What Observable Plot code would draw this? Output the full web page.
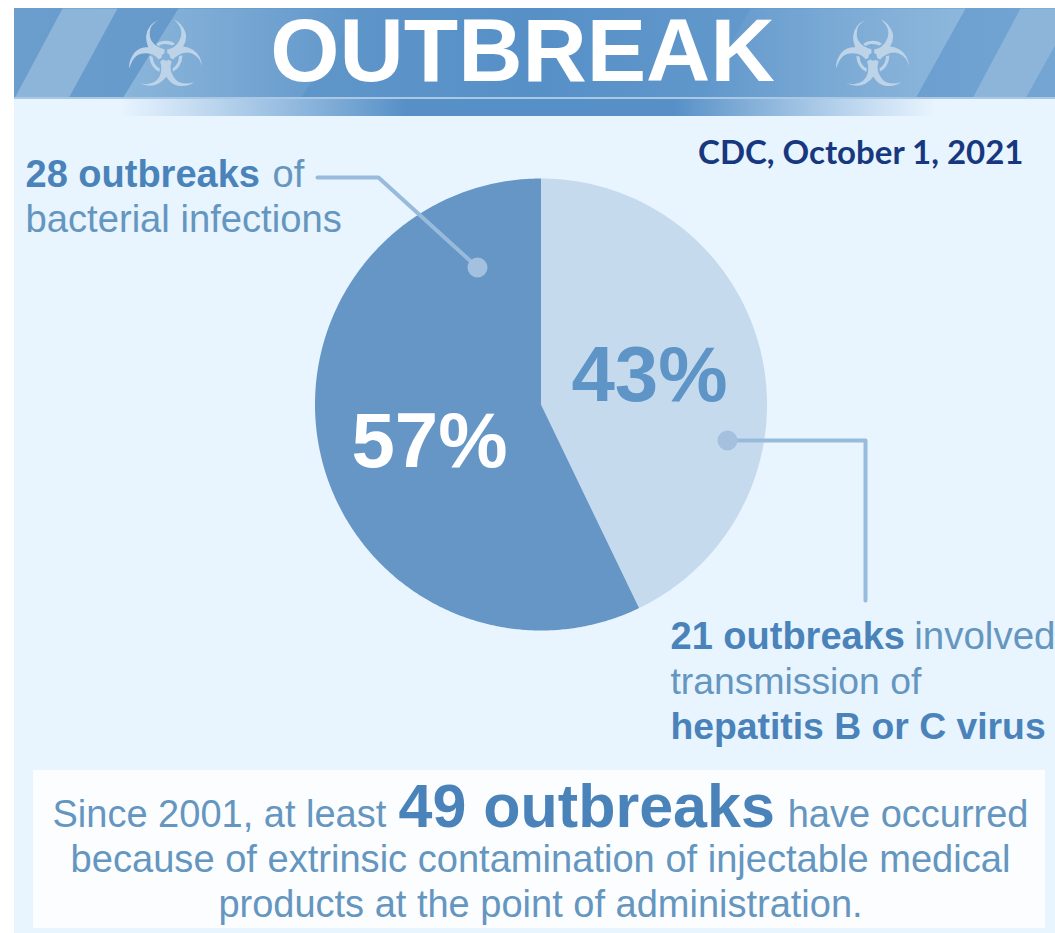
<!DOCTYPE html>
<html>
<head>
<meta charset="utf-8">
<script src="https://cdn.jsdelivr.net/npm/d3@7"></script>
<script src="https://cdn.jsdelivr.net/npm/@observablehq/plot@0.6"></script>
<style>
  html, body { margin: 0; padding: 0; background: #fff; }
  svg { display: block; }
</style>
</head>
<body>
<div id="chart"></div>
<script>
// Outbreak counts by type, clockwise from twelve o'clock
const outbreakTypes = ["hepatitis", "bacterial"];
const outbreakCounts = [21, 28];
const sliceColors = ["#c6daee", "#6596c6"];
const percentColors = ["#5e94c6", "#ffffff"];

const W = 1055, H = 933;
const pieCenter = {x: 540.5, y: 404};
const pieRadius = 226;

const SANS = "'Liberation Sans', Arial, sans-serif";
const BOLD_BLUE = "#4a83ba";
const SOFT_BLUE = "#6596bf";

// Wedge outlines come from d3.pie so the angles follow the counts
const arcs = d3.pie().sort(null).value(d => d)(outbreakCounts);
const wedgePoints = arc => {
  const pts = [{x: pieCenter.x, y: pieCenter.y}];
  const steps = Math.ceil((arc.endAngle - arc.startAngle) * 180 / Math.PI * 2);
  for (let i = 0; i <= steps; i++) {
    const a = arc.startAngle + (arc.endAngle - arc.startAngle) * i / steps;
    pts.push({x: pieCenter.x + pieRadius * Math.sin(a), y: pieCenter.y - pieRadius * Math.cos(a)});
  }
  return pts;
};

const polygon = (pts, fill, extra = {}) =>
  Plot.line(pts, {x: "x", y: "y", fill, stroke: "none", curve: "linear-closed", ...extra});

const band = (x1, x2, y1, y2, fill) =>
  Plot.rect([{x1, x2, y1, y2}], {x1: "x1", x2: "x2", y1: "y1", y2: "y2", fill});

const label = (text, x, y, size, fill, weight = "normal", anchor = "start", family = SANS) =>
  Plot.text([{text, x, y}], {
    x: "x", y: "y", text: "text", fontSize: size, fill, fontWeight: weight,
    textAnchor: anchor, lineAnchor: "bottom", fontFamily: family
  });

// Slanted header stripe from its bottom and top edges
const stripe = (b1, b2, t1, t2, fill) => polygon(
  [{x: b1, y: 98}, {x: b2, y: 98}, {x: t2, y: 8}, {x: t1, y: 8}], fill);

const leader = pts => Plot.line(pts, {x: "x", y: "y", stroke: "#98bbdc", strokeWidth: 4, curve: "linear"});
const dot = (x, y) => Plot.dot([{x, y}], {x: "x", y: "y", r: 10, fill: "#a3c1df", stroke: "none"});

const gradients = () => {
  const defs = d3.create("svg:defs");
  const stops = (id, list) => {
    const g = defs.append("linearGradient").attr("id", id);
    list.forEach(([o, c, a]) => g.append("stop").attr("offset", o).attr("stop-color", c).attr("stop-opacity", a));
  };
  stops("headerFill", [[0, "#6b9ecd", 1], [0.5, "#5690c7", 1], [1, "#74a5d3", 1]]);
  stops("underFill", [[0, "#5a94cb", 0], [0.35, "#4f8bc4", 0.95], [0.68, "#4f8bc4", 0.95], [1, "#5a94cb", 0]]);
  stops("stripeFade", [[0, "#8fb8dc", 0.9], [1, "#8fb8dc", 0]]);
  stops("stripeFadeBack", [[0, "#8fb8dc", 0], [1, "#8fb8dc", 0.95]]);
  return defs.node();
};

const [hepArc, bacArc] = arcs;
const percent = i => `${Math.round(outbreakCounts[i] / d3.sum(outbreakCounts) * 100)}%`;

const chart = Plot.plot({
  width: W,
  height: H,
  margin: 0,
  style: {background: "#fff", overflow: "hidden"},
  x: {domain: [0, W], range: [0, W], axis: null},
  y: {domain: [0, H], range: [0, H], axis: null},
  marks: [
    gradients,
    // Panel and header
    band(14, W, 8, H, "#e8f4fe"),
    band(14, W, 8, 98, "url(#headerFill)"),
    stripe(14, 68, 62, 117, "#8db5da"),
    stripe(122, 300, 178, 360, "url(#stripeFade)"),
    stripe(700, 915, 750, 965, "url(#stripeFadeBack)"),
    stripe(972, 1025, 1020, 1075, "#8db5da"),
    band(120, 935, 98, 116, "url(#underFill)"),
    band(14, W, 97, 99, "#a9c8e6"),
    label("\u2623", 165, 85, 91, "#bcd3e8", "normal", "middle", "'DejaVu Sans'"),
    label("\u2623", 872, 85, 91, "#bcd3e8", "normal", "middle", "'DejaVu Sans'"),
    label("OUTBREAK", 522, 80, 89, "#ffffff", "bold", "middle"),
    label("CDC, October 1, 2021", 1023, 163, 33, "#17387f", "bold", "end", "Lato, sans-serif"),

    // Pie
    polygon(wedgePoints(hepArc), sliceColors[0]),
    polygon(wedgePoints(bacArc), sliceColors[1]),
    label(percent(0), 649, 400, 78, percentColors[0], "bold", "middle"),
    label(percent(1), 429, 466, 78, percentColors[1], "bold", "middle"),

    // Leaders
    leader([{x: 317, y: 177}, {x: 378, y: 177}, {x: 477, y: 267}]),
    dot(477, 267),
    leader([{x: 727, y: 440}, {x: 865, y: 440}, {x: 865, y: 600}]),
    dot(727, 440),

    // Callouts
    label("28 outbreaks", 25, 186, 38, BOLD_BLUE, "bold"),
    label("of", 272, 186, 38, SOFT_BLUE),
    label("bacterial infections", 25, 231, 38.2, SOFT_BLUE),
    label("21 outbreaks", 670, 648, 38, BOLD_BLUE, "bold"),
    label("involved", 1055, 648, 38.5, SOFT_BLUE, "normal", "end"),
    label("transmission of", 670, 693, 37.3, SOFT_BLUE),
    label("hepatitis B or C virus", 670, 738, 37.3, BOLD_BLUE, "bold"),

    // Summary box
    band(33, 1045, 770, 928, "#fbfdff"),
    label("Since 2001, at least", 52, 826, 38, SOFT_BLUE),
    label("49 outbreaks", 398, 826, 61, BOLD_BLUE, "bold"),
    label("have occurred", 1028, 826, 38, SOFT_BLUE, "normal", "end"),
    label("because of extrinsic contamination of injectable medical", 540, 871, 38.1, SOFT_BLUE, "normal", "middle"),
    label("products at the point of administration.", 540, 916, 38, SOFT_BLUE, "normal", "middle")
  ]
});

document.getElementById("chart").append(chart);
</script>
</body>
</html>
